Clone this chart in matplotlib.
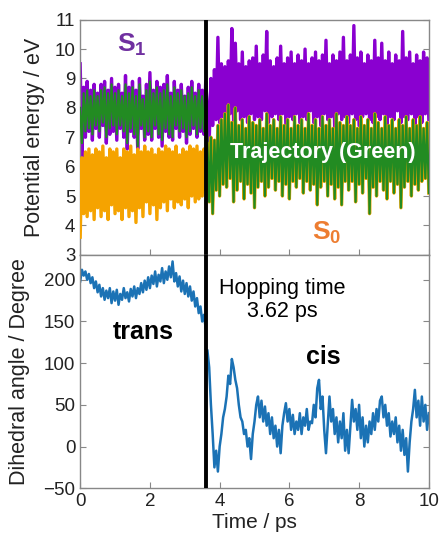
import numpy as np
import matplotlib
matplotlib.use("Agg")
import matplotlib.pyplot as plt

plt.rcParams['font.family'] = ['Liberation Sans', 'DejaVu Sans']
plt.rcParams['mathtext.fontset'] = 'custom'
plt.rcParams['mathtext.rm'] = 'Liberation Sans'
plt.rcParams['mathtext.bf'] = 'Liberation Sans:bold'

# time grid, 0.05 ps sampling
time_ps = np.linspace(0, 10, 201)
hop_time = 3.62

# S1 energy (eV)
s1_energy = [
    9.5, 6.3, 8.7, 7.0, 8.9, 7.2, 8.6, 6.9, 8.8, 7.3,
    8.5, 7.0, 8.8, 7.4, 8.9, 6.8, 8.6, 7.1, 9.0, 7.2,
    8.7, 6.9, 8.8, 7.3, 8.5, 7.0, 9.1, 6.6, 8.7, 7.2,
    8.9, 7.0, 8.6, 6.6, 9.0, 7.3, 8.4, 6.9, 8.8, 7.1,
    9.2, 6.9, 8.6, 7.3, 8.9, 7.0, 8.7, 6.7, 8.8, 7.2,
    9.1, 7.0, 8.5, 6.9, 8.9, 7.3, 8.6, 7.0, 8.8, 7.2,
    8.4, 6.8, 8.7, 7.1, 8.9, 7.3, 8.5, 7.0, 8.8, 7.2,
    8.6, 7.1, 8.9,
    8.0, 6.8, 9.0, 7.4, 9.3, 7.6, 10.4, 7.5, 9.5, 7.7,
    9.4, 7.6, 9.6, 7.8, 10.7, 7.5, 10.2, 7.9, 9.5, 7.6,
    9.9, 7.7, 9.4, 7.5, 9.6, 7.8, 9.7, 7.6, 10.1, 7.7,
    9.5, 7.6, 9.8, 7.9, 10.6, 7.5, 9.6, 7.7, 9.4, 7.8,
    9.7, 7.6, 10.1, 7.8, 9.5, 7.4, 9.7, 7.7, 9.9, 7.6,
    9.5, 7.8, 9.8, 7.5, 9.6, 7.7, 10.0, 7.6, 9.5, 7.9,
    9.7, 7.5, 9.9, 7.7, 9.6, 7.4, 9.8, 7.8, 10.3, 7.6,
    9.5, 7.7, 9.8, 7.3, 9.6, 7.8, 9.9, 7.6, 10.4, 7.7,
    9.6, 7.5, 9.8, 7.8, 10.8, 7.6, 9.7, 7.4, 9.9, 7.7,
    9.5, 7.8, 9.8, 7.6, 9.6, 7.5, 10.3, 7.7, 9.7, 7.6,
    10.2, 7.8, 9.6, 7.4, 9.9, 7.7, 9.5, 7.6, 9.8, 7.9,
    9.6, 7.5, 10.6, 7.7, 9.7, 7.6, 9.9, 7.8, 9.5, 7.4,
    9.8, 7.7, 9.6, 7.5, 9.9, 7.8, 9.7, 7.6,
]

# S0 energy (eV)
s0_energy = [
    3.6, 6.3, 4.4, 6.5, 4.3, 6.6, 4.5, 6.4, 4.2, 6.6,
    4.6, 6.5, 4.3, 6.7, 4.5, 6.3, 4.2, 6.6, 4.7, 6.5,
    4.4, 6.6, 4.5, 6.3, 4.2, 6.6, 4.6, 6.5, 4.3, 6.7,
    4.5, 6.4, 4.1, 6.6, 4.6, 6.5, 4.3, 6.7, 4.8, 6.5,
    4.4, 6.6, 4.7, 6.4, 4.2, 6.6, 4.6, 6.5, 4.8, 6.7,
    4.5, 6.6, 4.9, 6.5, 4.6, 6.7, 4.8, 6.4, 4.7, 6.6,
    4.9, 6.5, 4.6, 6.7, 5.0, 6.6, 4.8, 6.7, 4.9, 6.5,
    5.0, 6.6, 5.2,
    6.8, 4.8, 7.0, 4.4, 6.9, 5.2, 7.4, 5.0, 7.6, 5.4,
    7.8, 5.3, 8.1, 5.6, 7.5, 4.8, 8.0, 5.2, 7.4, 5.5,
    7.6, 4.9, 7.3, 5.4, 7.7, 5.1, 7.5, 4.6, 7.4, 5.3,
    7.6, 5.5, 7.3, 5.0, 7.8, 5.3, 7.4, 5.6, 7.6, 5.2,
    7.3, 5.5, 7.7, 5.0, 7.4, 5.4, 7.6, 4.9, 7.3, 5.5,
    7.7, 5.3, 7.4, 5.6, 7.6, 5.1, 7.3, 5.5, 7.8, 5.2,
    7.4, 5.4, 7.6, 4.7, 7.3, 5.3, 7.7, 5.5, 7.4, 5.0,
    7.6, 5.4, 7.3, 4.9, 7.8, 5.3, 7.5, 4.7, 7.4, 5.5,
    7.7, 5.2, 7.4, 5.5, 7.6, 4.8, 7.3, 5.4, 7.7, 5.1,
    7.4, 5.6, 7.6, 4.4, 7.3, 5.3, 7.8, 5.0, 7.5, 5.5,
    7.3, 5.2, 7.7, 4.9, 7.4, 5.5, 7.6, 5.1, 7.3, 5.4,
    7.6, 4.6, 7.4, 5.3, 7.7, 5.5, 7.3, 5.0, 7.6, 5.4,
    7.4, 5.2, 7.7, 5.5, 7.3, 5.6, 7.5, 5.1,
]

# trajectory energy on S1 before the hop (eV); after the hop it follows S0
traj_before_hop = [
    8.0, 6.8, 8.5, 7.2, 8.6, 7.3, 8.4, 7.1, 8.6, 7.4,
    8.4, 7.2, 8.6, 7.5, 8.7, 7.0, 8.5, 7.3, 8.8, 7.4,
    8.5, 7.1, 8.6, 7.4, 8.4, 7.2, 8.8, 6.8, 8.5, 7.3,
    8.7, 7.1, 8.4, 6.7, 8.8, 7.4, 8.3, 7.0, 8.6, 7.2,
    8.9, 7.0, 8.5, 7.4, 8.7, 7.1, 8.5, 6.9, 8.6, 7.3,
    8.8, 7.1, 8.4, 7.0, 8.7, 7.4, 8.5, 7.2, 8.6, 7.3,
    8.4, 7.0, 8.5, 7.2, 8.7, 7.4, 8.4, 7.1, 8.6, 7.3,
    8.4, 7.2, 8.5,
]

# C-N=N-C dihedral angle (degree)
dihedral = [
    198, 212, 205, 210, 200, 207, 196, 203, 190, 198,
    185, 194, 180, 190, 176, 187, 178, 190, 172, 186,
    175, 188, 170, 183, 176, 190, 178, 185, 174, 189,
    180, 192, 178, 190, 183, 196, 185, 199, 188, 203,
    190, 205, 195, 210, 192, 206, 198, 214, 196, 210,
    200, 216, 203, 222, 198, 208, 192, 204, 186, 199,
    183, 196, 180, 192, 175, 186, 168, 178, 160, 168,
    150, 158, 142,
    115, 95, 50, 15, -25, -5, -30, 0, 15, 35,
    45, 60, 85, 75, 105, 95, 80, 70, 50, 35,
    30, 15, 20, 0, 10, -15, 15, 30, 50, 60,
    35, 55, 30, 48, 25, 40, 15, 35, 10, 25,
    0, 20, -8, 25, 40, 52, 30, 45, 20, 38,
    15, 30, 20, 40, 15, 35, 25, 45, 20, 30,
    28, 50, 35, 70, 80, 45, 60, 20, -8, 25,
    60, 30, 45, 15, 35, 5, 30, 10, 40, -5,
    20, -8, 25, 56, 30, 45, 20, 50, 10, 35,
    0, 25, 5, 30, 15, 40, 20, 45, 30, 55,
    60, 35, 50, 25, 40, 12, 30, 15, 35, 5,
    25, -5, 20, -10, 10, -30, 5, 30, 45, 68,
    35, 55, 25, 60, 30, 50, 20, 40,
]

s1 = np.array(s1_energy)
s0 = np.array(s0_energy)
n_pre = len(traj_before_hop)
traj = np.concatenate([traj_before_hop, s0[n_pre:]])
dih = np.array(dihedral)

fig = plt.figure(figsize=(4.43, 5.33), dpi=100)
ax1 = fig.add_axes([0.181, 0.522, 0.787, 0.441])
ax2 = fig.add_axes([0.181, 0.084, 0.787, 0.438], sharex=ax1)

ax1.plot(time_ps, s1, color='#8A00D0', lw=2.4, zorder=2)
ax1.plot(time_ps, s0, color='#F5A300', lw=2.4, zorder=3)
ax1.plot(time_ps, traj, color='#228B22', lw=1.6, zorder=4)

ax2.plot(time_ps[:n_pre], dih[:n_pre], color='#1B72B5', lw=1.8)
ax2.plot(time_ps[n_pre:], dih[n_pre:], color='#1B72B5', lw=1.8)

for ax in (ax1, ax2):
    ax.axvline(hop_time, color='black', lw=2.8, zorder=6)
    ax.set_xlim(0, 10)
    ax.tick_params(direction='in', right=True, length=4, color='#888888',
                   labelsize=13.5, labelcolor='#222222')
    for sp in ax.spines.values():
        sp.set_color('#888888')
        sp.set_linewidth(1.0)

ax1.set_ylim(3, 11)
ax1.set_yticks(range(3, 12))
ax1.tick_params(labelbottom=False)
ax1.set_ylabel('Potential energy / eV', fontsize=15.5, color='#222222')
ax1.yaxis.set_label_coords(-0.100, 0.5)

ax2.set_ylim(-50, 230)
ax2.set_yticks(range(-50, 201, 50))
ax2.set_xticks(range(0, 11, 2))
ax2.set_ylabel('Dihedral angle / Degree', fontsize=15.5, color='#222222')
ax2.yaxis.set_label_coords(-0.143, 0.5)
ax2.set_xlabel('Time / ps', fontsize=15, color='#222222', labelpad=2)

ax1.text(1.49, 10.15, r'$\mathbf{S_1}$', color='#7030A0', fontsize=19,
         ha='center', va='center')
ax1.text(7.08, 3.75, r'$\mathbf{S_0}$', color='#ED7D31', fontsize=19,
         ha='center', va='center')
ax1.text(6.96, 6.48, 'Trajectory (Green)', color='white', fontsize=15.5,
         fontweight='bold', ha='center', va='center', zorder=7)

ax2.text(1.8, 137, 'trans', fontsize=18, fontweight='bold', ha='center', va='center')
ax2.text(6.96, 107, 'cis', fontsize=18, fontweight='bold', ha='center', va='center')
ax2.text(5.79, 176, 'Hopping time\n3.62 ps', fontsize=15.5, ha='center', va='center',
         linespacing=1.15)

fig.savefig('out.png', dpi=100)
